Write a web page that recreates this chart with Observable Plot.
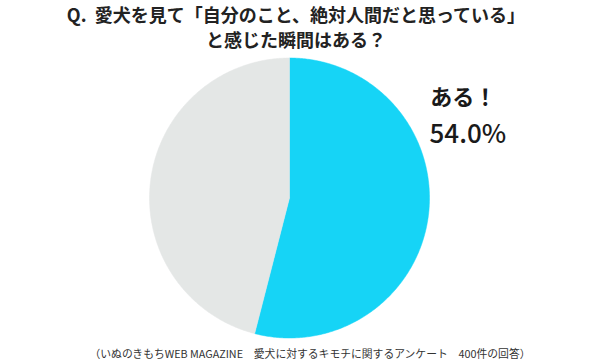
<!DOCTYPE html>
<html lang="ja">
<head>
<meta charset="utf-8">
<script src="https://cdn.jsdelivr.net/npm/d3@7"></script>
<script src="https://cdn.jsdelivr.net/npm/@observablehq/plot@0.6"></script>
<style>
  html, body { margin: 0; padding: 0; background: #fff; }
  body { width: 600px; height: 361px; overflow: hidden; font-family: "Noto Sans CJK JP", sans-serif; color: #222; }
  .title { text-align: center; font-weight: 700; font-size: 18px; line-height: 25px; padding-top: 2px; height: 50px; margin-left: -8px; }
  .caption { text-align: center; font-size: 10.8px; color: #333; margin-top: 3px; margin-left: 20px; }
  #chart svg { display: block; }
</style>
</head>
<body>
<div class="title">Q.&nbsp;&nbsp;愛犬を見て「自分のこと、絶対人間だと思っている」<br>と感じた瞬間はある？</div>
<div id="chart"></div>
<div class="caption">（いぬのきもちWEB MAGAZINE　愛犬に対するキモチに関するアンケート　400件の回答）</div>
<script>
// Survey answers and their shares (%)
const answers = ["ある！", "ない"];
const shares = [54.0, 46.0];
const sliceColors = ["#16d4f6", "#e4e7e6"];

// Pie angles: start at 12 o'clock, go clockwise, keep input order
const arcs = d3.pie().sort(null)(shares);

// Turn each slice into a closed outline on a unit circle (y up)
const outline = arcs.flatMap((a, i) => {
  const n = Math.max(2, Math.ceil((a.endAngle - a.startAngle) / 0.01));
  const pts = [{answer: answers[i], x: 0, y: 0}];
  for (let k = 0; k <= n; ++k) {
    const t = a.startAngle + (a.endAngle - a.startAngle) * k / n;
    pts.push({answer: answers[i], x: Math.sin(t), y: Math.cos(t)});
  }
  pts.push({answer: answers[i], x: 0, y: 0});
  return pts;
});

const highlighted = [{answer: answers[0], share: shares[0]}];

const chart = Plot.plot({
  width: 600,
  height: 290,
  marginLeft: 149,
  marginRight: 171,
  marginTop: 5.5,
  marginBottom: 4.5,
  x: {domain: [-1, 1], axis: null},
  y: {domain: [-1, 1], axis: null},
  color: {domain: answers, range: sliceColors},
  style: {fontFamily: "'Noto Sans CJK JP', sans-serif", overflow: "visible"},
  marks: [
    Plot.line(outline, {x: "x", y: "y", z: "answer", fill: "answer", stroke: "answer", strokeWidth: 0.5, curve: "linear"}),
    Plot.text(highlighted, {
      x: () => 1.005, y: () => 0.715, text: "answer",
      textAnchor: "start", fontSize: 22, fontWeight: 700, fill: "#1a1a1a"
    }),
    Plot.text(highlighted, {
      x: () => 1.0, y: () => 0.455, text: d => `${d.share.toFixed(1)}%`,
      textAnchor: "start", fontSize: 26, fontWeight: 500, fill: "#1a1a1a"
    })
  ]
});
document.getElementById("chart").appendChild(chart);
</script>
</body>
</html>
